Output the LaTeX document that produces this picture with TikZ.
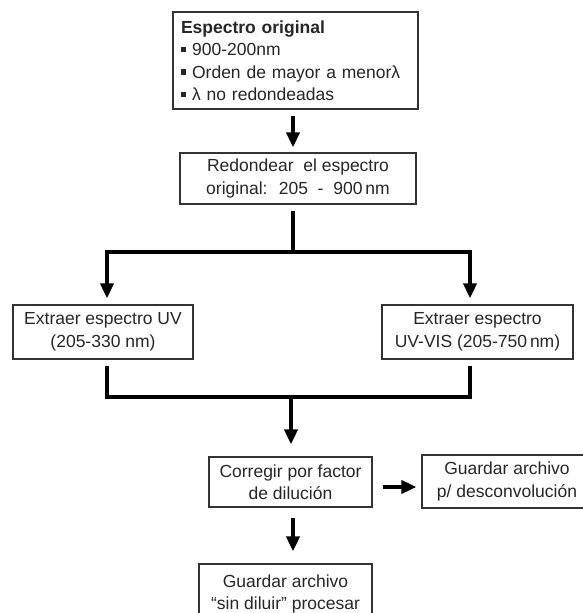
\documentclass[tikz,border=0pt]{standalone}
\usepackage{fontspec}
\setmainfont{Liberation Sans}
\usetikzlibrary{arrows.meta}

\newcommand{\bul}{\rule[0.2em]{0.3em}{0.3em}\ }

\begin{document}
\begin{tikzpicture}[x=1pt,y=-1pt,line width=4pt]
  \tikzstyle{paso}=[draw=black!80,line width=1.2pt,rectangle,align=center,inner sep=0pt,
    font=\fontsize{17.5}{22.5}\selectfont,text=black!85]
  \tikzstyle{linea}=[line width=4pt,black]
  \tikzstyle{flecha}=[linea,-{Triangle[width=13pt,length=15pt]}]
  \tikzstyle{doble}=[linea,{Triangle[width=13pt,length=15pt]}-{Triangle[width=13pt,length=15pt]}]

  \useasboundingbox (0,0) rectangle (583,613);
  \clip (0,0) rectangle (583,613);

  \node[paso,line width=1.6pt,minimum width=245pt,minimum height=97pt,align=left,
    text width=229pt] (original) at (295.5,60.5)
    {\textbf{Espectro original}\\ \bul 900-200nm\\ \bul Orden de mayor a menorλ\\ \bul λ no redondeadas};

  \foreach \name/\x/\y/\w/\h/\txt in {
    redondeo/298/178.5/236/51/{Redondear \ el espectro\\original: \ 205 \ - \ 900\,nm},
    uv/103/332/180/54/{Extraer espectro UV\\(205-330 nm)},
    uvvis/477.5/332/191/54/{Extraer espectro\\UV-VIS (205-750\,nm)},
    dilucion/290.5/482/163/50/{Corregir por factor\\de dilución},
    desconv/507/481.5/170/53/{Guardar archivo\\p/ desconvolución},
    final/285.5/594/173/60/{Guardar archivo\\“sin diluir” procesar}}
    \node[paso,minimum width=\w pt,minimum height=\h pt] (\name) at (\x,\y) {\txt};

  \coordinate (eje) at (293,0);
  \coordinate (rama) at (293,252);
  \coordinate (rama-i) at (107,252);
  \coordinate (rama-d) at (470,252);
  \coordinate (union) at (291,397);
  \coordinate (union-i) at (107,397);
  \coordinate (union-d) at (470,397);

  \draw[flecha,shorten <=6pt,shorten >=5pt] (original.south -| eje) -- (redondeo.north -| eje);
  \draw[linea,shorten <=6pt] (redondeo.south -| rama) -- (rama);
  \draw[doble,shorten <=6pt,shorten >=6pt] (rama-i |- uv.north) -- (rama-i) -- (rama-d) -- (rama-d |- uvvis.north);
  \draw[linea,shorten <=6pt,shorten >=6pt] (union-i |- uv.south) -- (union-i) -- (union-d) -- (union-d |- uvvis.south);
  \draw[flecha,shorten >=12pt] (union) -- (dilucion.north -| union);
  \draw[flecha,shorten <=10pt,shorten >=5pt] ([yshift=-5pt]dilucion.east) -- ([yshift=-5pt]dilucion.east -| desconv.west);
  \draw[flecha,shorten <=10pt,shorten >=12pt] (dilucion.south -| eje) -- (final.north -| eje);
\end{tikzpicture}
\end{document}
